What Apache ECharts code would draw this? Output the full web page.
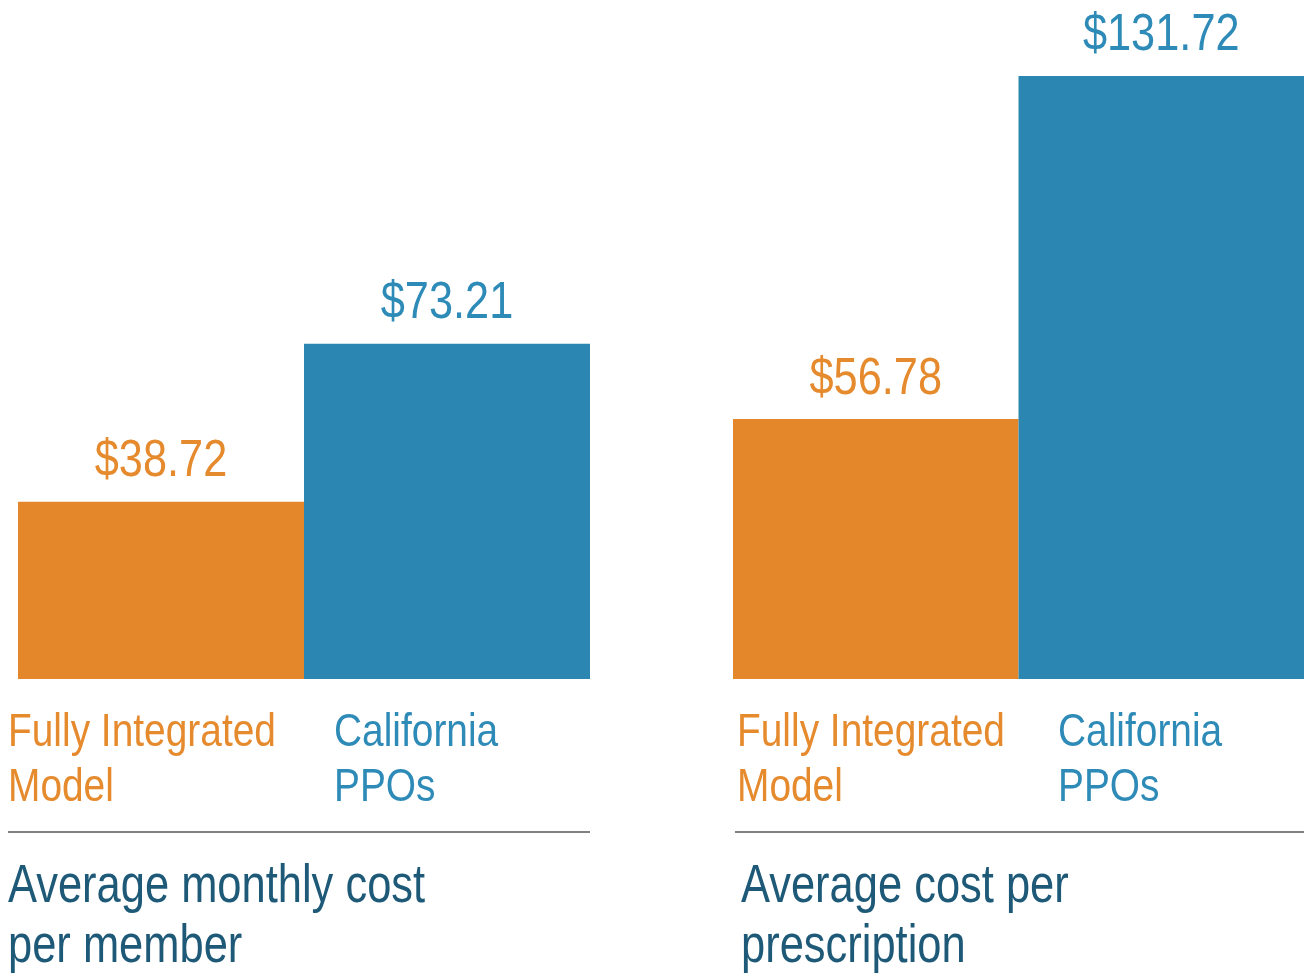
<!DOCTYPE html>
<html>
<head>
<meta charset="utf-8">
<script src="https://cdn.jsdelivr.net/npm/echarts@6/dist/echarts.min.js"></script>
<style>
html,body{margin:0;padding:0;background:#fff;}
#c{width:1304px;height:976px;}
</style>
</head>
<body>
<div id="c"></div>
<script>
const categories = ['Fully Integrated\nModel', 'California\nPPOs'];
const monthlyCost = [38.72, 73.21];
const rxCost = [56.78, 131.72];
const panelTitles = ['Average monthly cost\nper member', 'Average cost per\nprescription'];

const ORANGE = '#E3872A', BLUE = '#2B87B1';
const ORANGE_T = '#E68A2E', BLUE_T = '#2E8BB8';
const CAPTION = '#1E5A78';
const FONT = '"Liberation Sans", Arial, sans-serif';

const chart = echarts.init(document.getElementById('c'), null, {renderer: 'canvas'});

const grids = [
  {left: 18, width: 572, top: 38, height: 641},
  {left: 733, width: 571, top: 38, height: 641}
];

const catLabelX = [[8, 334], [737, 1058]];
const captionX = [8, 741];

const graphics = [
  {type: 'line', shape: {x1: 8, y1: 832, x2: 590, y2: 832}, style: {stroke: '#808080', lineWidth: 2}},
  {type: 'line', shape: {x1: 735, y1: 832, x2: 1304, y2: 832}, style: {stroke: '#808080', lineWidth: 2}}
];
for (let p = 0; p < 2; p++) {
  categories.forEach((c, i) => {
    graphics.push({
      type: 'text', x: catLabelX[p][i], y: 706, scaleX: 0.845,
      style: {text: c, font: '46px ' + FONT, lineHeight: 55, fill: i === 0 ? ORANGE_T : BLUE_T, align: 'left', verticalAlign: 'top'}
    });
  });
  graphics.push({
    type: 'text', x: captionX[p], y: 857, scaleX: 0.82,
    style: {text: panelTitles[p], font: '53px ' + FONT, lineHeight: 60, fill: CAPTION, align: 'left', verticalAlign: 'top'}
  });
}

function labelRender(params, api) {
  const idx = api.value(0);
  const val = api.value(1);
  const pt = api.coord([idx, val]);
  return {
    type: 'text', x: pt[0], y: pt[1] - 14, scaleX: 0.85,
    style: {
      text: '$' + val.toFixed(2), font: '51px ' + FONT,
      fill: idx === 0 ? ORANGE_T : BLUE_T, align: 'center', verticalAlign: 'bottom'
    }
  };
}

const option = {
  animation: false,
  backgroundColor: '#fff',
  grid: grids,
  xAxis: [0, 1].map(g => ({
    type: 'category', gridIndex: g, data: categories,
    axisLine: {show: false}, axisTick: {show: false}, axisLabel: {show: false}
  })),
  yAxis: [0, 1].map(g => ({
    type: 'value', gridIndex: g, min: 0, max: 140,
    show: false, splitLine: {show: false}
  })),
  series: [],
  graphic: graphics
};
[monthlyCost, rxCost].forEach((vals, g) => {
  option.series.push({
    type: 'bar', xAxisIndex: g, yAxisIndex: g,
    barCategoryGap: '0%',
    data: vals.map((v, i) => ({value: v, itemStyle: {color: i === 0 ? ORANGE : BLUE}}))
  });
  option.series.push({
    type: 'custom', xAxisIndex: g, yAxisIndex: g,
    data: vals.map((v, i) => [i, v]),
    renderItem: labelRender
  });
});
chart.setOption(option);
</script>
</body>
</html>
